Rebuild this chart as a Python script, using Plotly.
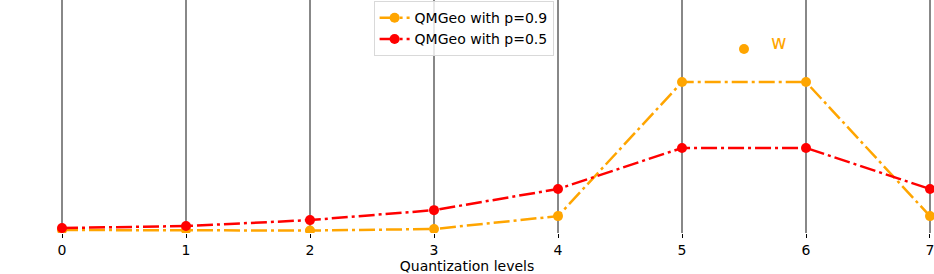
import plotly.graph_objects as go

levels = [0, 1, 2, 3, 4, 5, 6, 7]
p09 = [0.003, 0.003, 0.0015, 0.006, 0.045, 0.45, 0.45, 0.045]
p05 = [0.009, 0.015, 0.033, 0.063, 0.127, 0.251, 0.251, 0.127]
w_point = [5.5, 0.55]
w_label = "w"

dash = "16px,4px,3px,4px"
fig = go.Figure()
fig.add_trace(go.Scatter(x=levels, y=p09, mode="lines+markers", name="QMGeo with p=0.9",
                         line=dict(color="orange", width=2.5, dash=dash),
                         marker=dict(color="orange", size=10)))
fig.add_trace(go.Scatter(x=levels, y=p05, mode="lines+markers", name="QMGeo with p=0.5",
                         line=dict(color="red", width=2.5, dash=dash),
                         marker=dict(color="red", size=10)))
fig.add_trace(go.Scatter(x=[w_point[0]], y=[w_point[1]], mode="markers", showlegend=False,
                         marker=dict(color="orange", size=10)))
fig.add_annotation(x=w_point[0] + 0.28, y=w_point[1] + 0.02, text=w_label, showarrow=False,
                   font=dict(color="orange", size=19, family="DejaVu Sans"))

fig.update_layout(
    width=934, height=274,
    margin=dict(l=0, r=0, t=0, b=41),
    plot_bgcolor="white", paper_bgcolor="white",
    font=dict(family="DejaVu Sans", size=14, color="black"),
    legend=dict(x=0.4, xanchor="left", y=0.995, yanchor="top",
                bordercolor="#d9d9d9", borderwidth=1, bgcolor="rgba(255,255,255,0.8)",
                font=dict(size=14), tracegroupgap=0),
    xaxis=dict(range=[-0.5, 7.0323], tickvals=levels, showgrid=True, gridcolor="#888888",
               gridwidth=2, zeroline=False, showline=False, ticks="outside", ticklen=4,
               tickcolor="black", ticklabeloverflow="allow",
               title=dict(text="Quantization levels", standoff=7, font=dict(size=14)),
               tickfont=dict(size=14)),
    yaxis=dict(range=[-0.006, 0.698], showgrid=False, zeroline=False, showticklabels=False,
               showline=False),
)
fig.write_html("out.html", post_script="document.body.style.margin='0';",
               config={"displayModeBar": False})
